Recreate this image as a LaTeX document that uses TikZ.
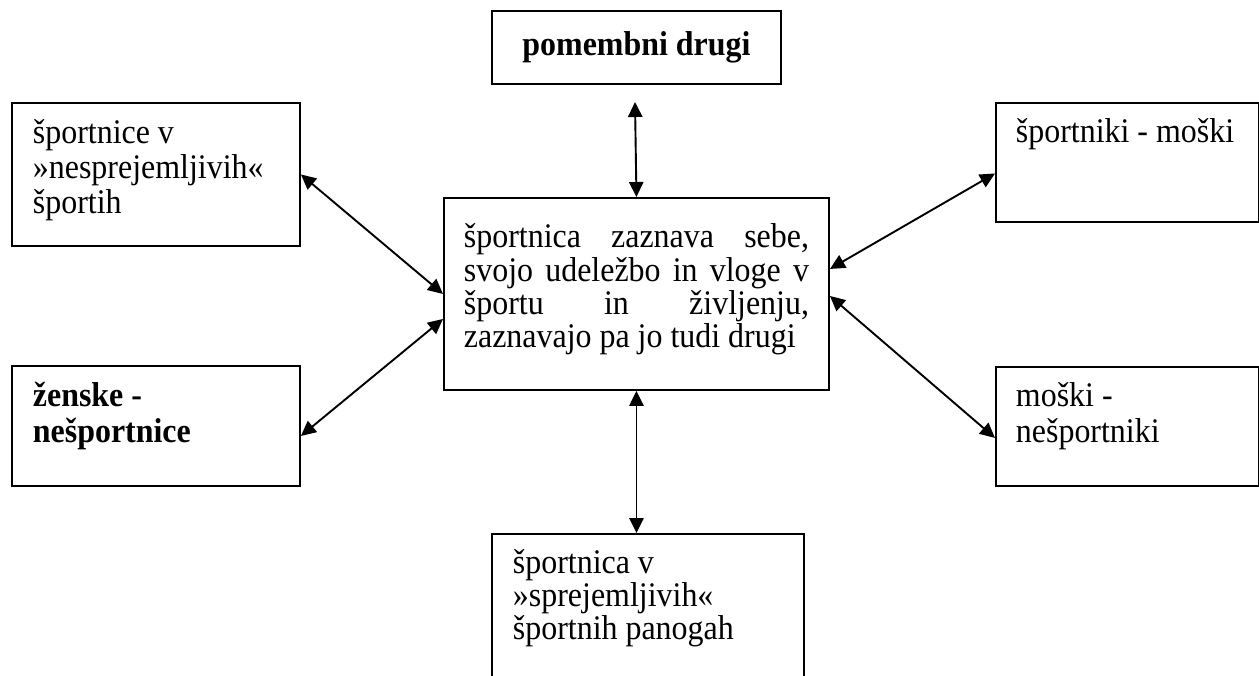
\documentclass[tikz,border=0pt]{standalone}
\usepackage{fontspec}
\setmainfont{Liberation Serif}[FakeStretch=0.925]
\usetikzlibrary{arrows.meta,calc}
\begin{document}
\begin{tikzpicture}[x=0.42pt,y=-0.42pt,
  bx/.style={draw, line width=0.8pt, inner ysep=0pt, anchor=north west},
  link/.style={line width=0.8pt, {Triangle[length=6.3pt,width=6pt]}-{Triangle[length=6.3pt,width=6pt]}}]
\useasboundingbox (0,0) rectangle (1259,675);
\clip (0,0) rectangle (1259,675);

% boxes
\node[bx, inner xsep=0pt, minimum width=121.38pt, minimum height=30.66pt,
      font=\bfseries\fontsize{14.5}{15}\selectfont] (t) at (491,10) {pomembni drugi};

\node[bx, inner xsep=8.82pt, font=\fontsize{14.5}{14.7}\selectfont] (lt) at (11,102)
  {\parbox[c][60.06pt][t]{103.32pt}{\raggedright\rule{0pt}{17.2pt}športnice v\\ »nesprejemljivih«\\ športih}};

\node[bx, inner xsep=8.82pt, font=\bfseries\fontsize{14.5}{15}\selectfont] (lb) at (11,365)
  {\parbox[c][50.4pt][t]{103.32pt}{\raggedright\rule{0pt}{17.2pt}ženske -\\ nešportnice}};

\node[bx, inner xsep=8.4pt, font=\fontsize{14.5}{13.9}\selectfont] (c) at (443,197)
  {\parbox[c][80.64pt][t]{144.9pt}{\rule{0pt}{21pt}športnica zaznava sebe,\linebreak svojo udeležbo in vloge v\linebreak športu in življenju,\linebreak zaznavajo pa jo tudi drugi}};

\node[bx, inner xsep=8.4pt, font=\fontsize{14.5}{15}\selectfont] (rt) at (995,102)
  {\parbox[c][49.98pt][t]{93.66pt}{\raggedright\rule{0pt}{16.8pt}športniki - moški}};

\node[bx, inner xsep=8.4pt, font=\fontsize{14.5}{15.2}\selectfont] (rb) at (995,366)
  {\parbox[c][49.98pt][t]{93.66pt}{\raggedright\rule{0pt}{16.4pt}moški -\\ nešportniki}};

\node[bx, inner xsep=8.82pt, font=\fontsize{14.5}{13.7}\selectfont] (b) at (491,533)
  {\parbox[c][65.94pt][t]{113.4pt}{\raggedright\rule{0pt}{16.8pt}športnica v\\ »sprejemljivih«\\ športnih panogah}};

% connectors
\coordinate (ta) at (635,102);
\draw[link] (ta) -- (c.north);
\draw[link] (c.south) -- (c.south |- b.north);
\draw[link] (lt.east) -- (c.west);
\draw[link] ($(c.west)+(0,25)$) -- ($(lb.east)+(0,10)$);
\draw[link] ($(c.east)+(0,-25)$) -- ($(rt.west)+(0,11)$);
\draw[link] ($(c.east)+(0,2)$) -- ($(rb.west)+(0,11.5)$);
\end{tikzpicture}
\end{document}
